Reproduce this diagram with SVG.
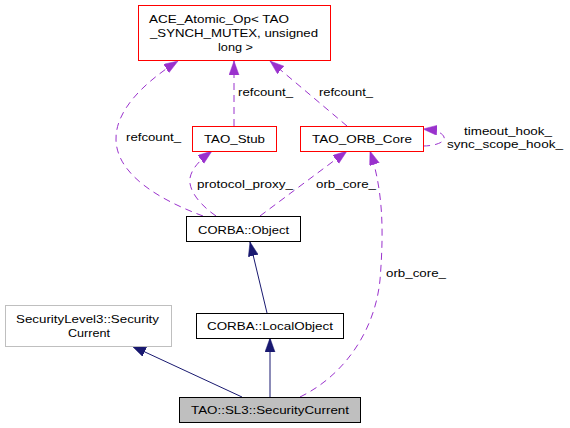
<svg xmlns="http://www.w3.org/2000/svg" width="570" height="428" viewBox="0 0 570 428">
<style>
text { font-family: "Liberation Sans", Arial, sans-serif; font-size: 11.5px; fill: #000; }
.red { fill: #fff; stroke: #ff0000; stroke-width: 1; }
.blk { fill: #fff; stroke: #000; stroke-width: 1; }
.gry { fill: #fff; stroke: #bfbfbf; stroke-width: 1; }
.cur { fill: #bfbfbf; stroke: #000; stroke-width: 1; }
.inh { fill: none; stroke: #191970; stroke-width: 1; marker-end: url(#an); }
.use { fill: none; stroke: #9a32cd; stroke-width: 1; stroke-dasharray: 7,5; marker-end: url(#ap); }
</style>
<defs>
<marker id="an" markerUnits="userSpaceOnUse" markerWidth="15" markerHeight="11" refX="14" refY="5" orient="auto" viewBox="0 0 15 11">
<path d="M0,0 L14,5 L0,10 z" fill="#191970" stroke="#191970" stroke-width="0.5"/>
</marker>
<marker id="ap" markerUnits="userSpaceOnUse" markerWidth="15" markerHeight="11" refX="14" refY="5" orient="auto" viewBox="0 0 15 11">
<path d="M0,0 L14,5 L0,10 z" fill="#9a32cd" stroke="#9a32cd" stroke-width="0.5"/>
</marker>
</defs>
<g id="connectors">
<path class="inh" d="M242,397 L132,346"/>
<path class="inh" d="M270,397 L270,338"/>
<path class="inh" d="M267,313 L250,242"/>
<path class="use" d="M203,216 C160,200 117,175 116,140 C115,110 145,82 178,61"/>
<path class="use" d="M216,216 C200,205 188,190 190,178 C192,168 200,160 212,151"/>
<path class="use" d="M260,216 L347,151"/>
<path class="use" d="M234,126 L234,61"/>
<path class="use" d="M347,126 L270,61"/>
<path class="use" d="M300,397 C345,375 375,330 380,280 C384,230 383,190 370,151"/>
<path class="use" d="M423,146 C435,146 446,142 444,137 C442,132 434,130 423,129"/>
<text x="126" y="141" textLength="55" lengthAdjust="spacingAndGlyphs">refcount_</text>
<text x="238" y="96" textLength="55" lengthAdjust="spacingAndGlyphs">refcount_</text>
<text x="319" y="96" textLength="54" lengthAdjust="spacingAndGlyphs">refcount_</text>
<text x="197" y="188" textLength="96" lengthAdjust="spacingAndGlyphs">protocol_proxy_</text>
<text x="316" y="188" textLength="60" lengthAdjust="spacingAndGlyphs">orb_core_</text>
<text x="386" y="277" textLength="60" lengthAdjust="spacingAndGlyphs">orb_core_</text>
<text x="464" y="135" textLength="88" lengthAdjust="spacingAndGlyphs">timeout_hook_</text>
<text x="447" y="148" textLength="116" lengthAdjust="spacingAndGlyphs">sync_scope_hook_</text>
</g>
<g id="ace">
<rect class="red" x="138.5" y="5.5" width="192" height="55"/>
<text x="149" y="23" textLength="140" lengthAdjust="spacingAndGlyphs">ACE_Atomic_Op&lt; TAO</text>
<text x="150" y="37" textLength="168" lengthAdjust="spacingAndGlyphs">_SYNCH_MUTEX, unsigned</text>
<text x="218" y="51" textLength="35" lengthAdjust="spacingAndGlyphs">long &gt;</text>
</g>
<g id="tao_stub">
<rect class="red" x="192.5" y="126.5" width="84" height="25"/>
<text x="204" y="142.5" textLength="61" lengthAdjust="spacingAndGlyphs">TAO_Stub</text>
</g>
<g id="tao_orb_core">
<rect class="red" x="300.5" y="126.5" width="123" height="25"/>
<text x="312" y="142.5" textLength="100" lengthAdjust="spacingAndGlyphs">TAO_ORB_Core</text>
</g>
<g id="corba_object">
<rect class="blk" x="186.5" y="216.5" width="114" height="25"/>
<text x="198" y="233.5" textLength="91" lengthAdjust="spacingAndGlyphs">CORBA::Object</text>
</g>
<g id="corba_localobject">
<rect class="blk" x="196.5" y="313.5" width="147" height="25"/>
<text x="207" y="330" textLength="126" lengthAdjust="spacingAndGlyphs">CORBA::LocalObject</text>
</g>
<g id="securitylevel3_securitycurrent">
<rect class="gry" x="5.5" y="305.5" width="166" height="41"/>
<text x="16" y="323" textLength="143" lengthAdjust="spacingAndGlyphs">SecurityLevel3::Security</text>
<text x="68" y="336.5" textLength="42" lengthAdjust="spacingAndGlyphs">Current</text>
</g>
<g id="tao_sl3_securitycurrent">
<rect class="cur" x="179.5" y="397.5" width="181" height="25"/>
<text x="191" y="413.5" textLength="158" lengthAdjust="spacingAndGlyphs">TAO::SL3::SecurityCurrent</text>
</g>
</svg>
